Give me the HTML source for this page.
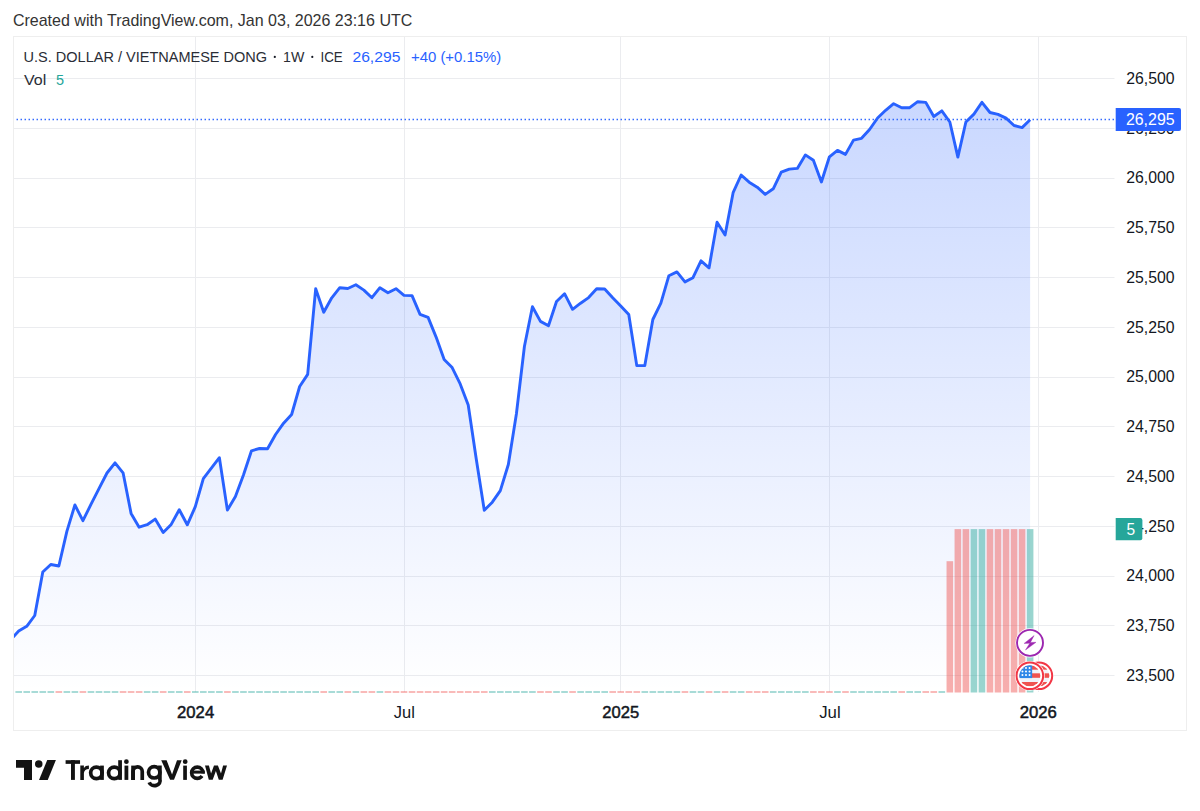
<!DOCTYPE html>
<html><head><meta charset="utf-8"><style>
html,body{margin:0;padding:0;background:#fff;width:1200px;height:811px;overflow:hidden}
svg{display:block}
text{font-family:"Liberation Sans",sans-serif}
.grid line{stroke:#EBECEF;stroke-width:1}
.u{fill:rgba(38,166,154,0.47)}
.d{fill:rgba(239,83,80,0.47)}
</style></head><body>
<svg width="1200" height="811" viewBox="0 0 1200 811">
<defs>
<linearGradient id="ag" x1="0" y1="101" x2="0" y2="692" gradientUnits="userSpaceOnUse">
<stop offset="0" stop-color="#2962FF" stop-opacity="0.25"/>
<stop offset="1" stop-color="#2962FF" stop-opacity="0.0"/>
</linearGradient>
<clipPath id="pc"><rect x="14" y="37" width="1100.5" height="656"/></clipPath>
</defs>
<rect x="0" y="0" width="1200" height="811" fill="#fff"/>
<text transform="translate(12.9 25.7) scale(1.0018 1)" font-size="16" font-weight="normal" fill="#333333">Created with TradingView.com, Jan 03, 2026 23:16 UTC</text>
<rect x="13.5" y="36.5" width="1173" height="694" fill="none" stroke="#EEEEEE" stroke-width="1"/>
<g class="grid"><line x1="14" y1="78.5" x2="1114.5" y2="78.5"/><line x1="14" y1="128.5" x2="1114.5" y2="128.5"/><line x1="14" y1="178.5" x2="1114.5" y2="178.5"/><line x1="14" y1="227.5" x2="1114.5" y2="227.5"/><line x1="14" y1="277.5" x2="1114.5" y2="277.5"/><line x1="14" y1="327.5" x2="1114.5" y2="327.5"/><line x1="14" y1="377.5" x2="1114.5" y2="377.5"/><line x1="14" y1="426.5" x2="1114.5" y2="426.5"/><line x1="14" y1="476.5" x2="1114.5" y2="476.5"/><line x1="14" y1="526.5" x2="1114.5" y2="526.5"/><line x1="14" y1="576.5" x2="1114.5" y2="576.5"/><line x1="14" y1="625.5" x2="1114.5" y2="625.5"/><line x1="14" y1="675.5" x2="1114.5" y2="675.5"/><line x1="195.5" y1="37" x2="195.5" y2="692"/><line x1="404.5" y1="37" x2="404.5" y2="692"/><line x1="620.5" y1="37" x2="620.5" y2="692"/><line x1="829.5" y1="37" x2="829.5" y2="692"/><line x1="1038.5" y1="37" x2="1038.5" y2="692"/></g>
<g clip-path="url(#pc)">
<path d="M10.68 639.7 L18.71 631 L26.73 626.3 L34.76 615.5 L42.79 572 L50.81 564.5 L58.84 566 L66.87 531.4 L74.9 505 L82.92 520.7 L90.95 504.4 L98.98 488.6 L107 473 L115.03 462.8 L123.06 472.8 L131.08 513.4 L139.11 527.2 L147.14 524.7 L155.17 519.1 L163.19 532.5 L171.22 524.4 L179.25 509.7 L187.27 524.8 L195.3 506.7 L203.33 478.7 L211.35 468.2 L219.38 457.7 L227.41 510.1 L235.44 496.6 L243.46 475 L251.49 450.8 L259.52 448.5 L267.54 448.8 L275.57 434.5 L283.6 423.2 L291.62 414.5 L299.65 386.5 L307.68 374.4 L315.7 288.7 L323.73 312.2 L331.76 297.8 L339.79 287.7 L347.81 288.5 L355.84 284.8 L363.87 290.1 L371.89 297.7 L379.92 287.7 L387.95 292.7 L395.98 288.7 L404 295.4 L412.03 295.6 L420.06 314.4 L428.08 317.4 L436.11 337.1 L444.14 359.5 L452.16 367.6 L460.19 383.9 L468.22 405 L476.25 459 L484.27 510.2 L492.3 502.2 L500.33 490.6 L508.35 464.5 L516.38 414 L524.41 346.5 L532.43 306.7 L540.46 321.4 L548.49 325.7 L556.51 301.5 L564.54 293.7 L572.57 309.3 L580.6 303.2 L588.62 297.6 L596.65 288.8 L604.68 289 L612.7 297.8 L620.73 305.9 L628.76 314.5 L636.78 365.6 L644.81 365.6 L652.84 319.5 L660.87 303.2 L668.89 275.7 L676.92 271.9 L684.95 281.9 L692.97 277.7 L701 260.8 L709.03 267.9 L717.06 222.2 L725.08 235.1 L733.11 192.7 L741.14 175 L749.16 182.2 L757.19 187.2 L765.22 194.4 L773.24 188.8 L781.27 172.2 L789.3 169.1 L797.33 168.4 L805.35 154.9 L813.38 160.3 L821.41 182 L829.43 156.8 L837.46 150.4 L845.49 154.4 L853.51 140.1 L861.54 138.3 L869.57 129.5 L877.6 118 L885.62 110.3 L893.65 103.7 L901.68 107.7 L909.7 107.7 L917.73 101.7 L925.76 102.4 L933.78 116.5 L941.81 110.9 L949.84 122 L957.87 157.1 L965.89 122 L973.92 114.1 L981.95 102.3 L989.97 112.5 L998 114.4 L1006.03 118.1 L1014.05 125.5 L1022.08 127.6 L1030.11 119.8 L1030.11 692 L10.68 692 Z" fill="url(#ag)"/>
<rect class="u" x="7.38" y="691" width="6.6" height="2" fill-opacity="0.85"/><rect class="u" x="15.41" y="691" width="6.6" height="2" fill-opacity="0.85"/><rect class="u" x="23.43" y="691" width="6.6" height="2" fill-opacity="0.85"/><rect class="u" x="31.46" y="691" width="6.6" height="2" fill-opacity="0.85"/><rect class="u" x="39.49" y="691" width="6.6" height="2" fill-opacity="0.85"/><rect class="u" x="47.51" y="691" width="6.6" height="2" fill-opacity="0.85"/><rect class="d" x="55.54" y="691" width="6.6" height="2" fill-opacity="0.85"/><rect class="u" x="63.57" y="691" width="6.6" height="2" fill-opacity="0.85"/><rect class="u" x="71.6" y="691" width="6.6" height="2" fill-opacity="0.85"/><rect class="d" x="79.62" y="691" width="6.6" height="2" fill-opacity="0.85"/><rect class="u" x="87.65" y="691" width="6.6" height="2" fill-opacity="0.85"/><rect class="u" x="95.68" y="691" width="6.6" height="2" fill-opacity="0.85"/><rect class="u" x="103.7" y="691" width="6.6" height="2" fill-opacity="0.85"/><rect class="u" x="111.73" y="691" width="6.6" height="2" fill-opacity="0.85"/><rect class="d" x="119.76" y="691" width="6.6" height="2" fill-opacity="0.85"/><rect class="d" x="127.78" y="691" width="6.6" height="2" fill-opacity="0.85"/><rect class="d" x="135.81" y="691" width="6.6" height="2" fill-opacity="0.85"/><rect class="u" x="143.84" y="691" width="6.6" height="2" fill-opacity="0.85"/><rect class="u" x="151.87" y="691" width="6.6" height="2" fill-opacity="0.85"/><rect class="d" x="159.89" y="691" width="6.6" height="2" fill-opacity="0.85"/><rect class="u" x="167.92" y="691" width="6.6" height="2" fill-opacity="0.85"/><rect class="u" x="175.95" y="691" width="6.6" height="2" fill-opacity="0.85"/><rect class="d" x="183.97" y="691" width="6.6" height="2" fill-opacity="0.85"/><rect class="u" x="192" y="691" width="6.6" height="2" fill-opacity="0.85"/><rect class="u" x="200.03" y="691" width="6.6" height="2" fill-opacity="0.85"/><rect class="u" x="208.05" y="691" width="6.6" height="2" fill-opacity="0.85"/><rect class="u" x="216.08" y="691" width="6.6" height="2" fill-opacity="0.85"/><rect class="d" x="224.11" y="691" width="6.6" height="2" fill-opacity="0.85"/><rect class="u" x="232.13" y="691" width="6.6" height="2" fill-opacity="0.85"/><rect class="u" x="240.16" y="691" width="6.6" height="2" fill-opacity="0.85"/><rect class="u" x="248.19" y="691" width="6.6" height="2" fill-opacity="0.85"/><rect class="u" x="256.22" y="691" width="6.6" height="2" fill-opacity="0.85"/><rect class="u" x="264.24" y="691" width="6.6" height="2" fill-opacity="0.85"/><rect class="u" x="272.27" y="691" width="6.6" height="2" fill-opacity="0.85"/><rect class="u" x="280.3" y="691" width="6.6" height="2" fill-opacity="0.85"/><rect class="u" x="288.32" y="691" width="6.6" height="2" fill-opacity="0.85"/><rect class="u" x="296.35" y="691" width="6.6" height="2" fill-opacity="0.85"/><rect class="u" x="304.38" y="691" width="6.6" height="2" fill-opacity="0.85"/><rect class="u" x="312.4" y="691" width="6.6" height="2" fill-opacity="0.85"/><rect class="d" x="320.43" y="691" width="6.6" height="2" fill-opacity="0.85"/><rect class="u" x="328.46" y="691" width="6.6" height="2" fill-opacity="0.85"/><rect class="u" x="336.49" y="691" width="6.6" height="2" fill-opacity="0.85"/><rect class="d" x="344.51" y="691" width="6.6" height="2" fill-opacity="0.85"/><rect class="u" x="352.54" y="691" width="6.6" height="2" fill-opacity="0.85"/><rect class="d" x="360.57" y="691" width="6.6" height="2" fill-opacity="0.85"/><rect class="d" x="368.59" y="691" width="6.6" height="2" fill-opacity="0.85"/><rect class="u" x="376.62" y="691" width="6.6" height="2" fill-opacity="0.85"/><rect class="d" x="384.65" y="691" width="6.6" height="2" fill-opacity="0.85"/><rect class="d" x="392.68" y="691" width="6.6" height="2" fill-opacity="0.85"/><rect class="d" x="400.7" y="691" width="6.6" height="2" fill-opacity="0.85"/><rect class="d" x="408.73" y="691" width="6.6" height="2" fill-opacity="0.85"/><rect class="d" x="416.76" y="691" width="6.6" height="2" fill-opacity="0.85"/><rect class="d" x="424.78" y="691" width="6.6" height="2" fill-opacity="0.85"/><rect class="d" x="432.81" y="691" width="6.6" height="2" fill-opacity="0.85"/><rect class="d" x="440.84" y="691" width="6.6" height="2" fill-opacity="0.85"/><rect class="d" x="448.86" y="691" width="6.6" height="2" fill-opacity="0.85"/><rect class="d" x="456.89" y="691" width="6.6" height="2" fill-opacity="0.85"/><rect class="d" x="464.92" y="691" width="6.6" height="2" fill-opacity="0.85"/><rect class="d" x="472.94" y="691" width="6.6" height="2" fill-opacity="0.85"/><rect class="d" x="480.97" y="691" width="6.6" height="2" fill-opacity="0.85"/><rect class="u" x="489" y="691" width="6.6" height="2" fill-opacity="0.85"/><rect class="u" x="497.03" y="691" width="6.6" height="2" fill-opacity="0.85"/><rect class="u" x="505.05" y="691" width="6.6" height="2" fill-opacity="0.85"/><rect class="u" x="513.08" y="691" width="6.6" height="2" fill-opacity="0.85"/><rect class="u" x="521.11" y="691" width="6.6" height="2" fill-opacity="0.85"/><rect class="u" x="529.13" y="691" width="6.6" height="2" fill-opacity="0.85"/><rect class="d" x="537.16" y="691" width="6.6" height="2" fill-opacity="0.85"/><rect class="d" x="545.19" y="691" width="6.6" height="2" fill-opacity="0.85"/><rect class="u" x="553.22" y="691" width="6.6" height="2" fill-opacity="0.85"/><rect class="u" x="561.24" y="691" width="6.6" height="2" fill-opacity="0.85"/><rect class="d" x="569.27" y="691" width="6.6" height="2" fill-opacity="0.85"/><rect class="u" x="577.3" y="691" width="6.6" height="2" fill-opacity="0.85"/><rect class="u" x="585.32" y="691" width="6.6" height="2" fill-opacity="0.85"/><rect class="u" x="593.35" y="691" width="6.6" height="2" fill-opacity="0.85"/><rect class="u" x="601.38" y="691" width="6.6" height="2" fill-opacity="0.85"/><rect class="d" x="609.4" y="691" width="6.6" height="2" fill-opacity="0.85"/><rect class="d" x="617.43" y="691" width="6.6" height="2" fill-opacity="0.85"/><rect class="d" x="625.46" y="691" width="6.6" height="2" fill-opacity="0.85"/><rect class="d" x="633.49" y="691" width="6.6" height="2" fill-opacity="0.85"/><rect class="u" x="641.51" y="691" width="6.6" height="2" fill-opacity="0.85"/><rect class="u" x="649.54" y="691" width="6.6" height="2" fill-opacity="0.85"/><rect class="u" x="657.57" y="691" width="6.6" height="2" fill-opacity="0.85"/><rect class="u" x="665.59" y="691" width="6.6" height="2" fill-opacity="0.85"/><rect class="u" x="673.62" y="691" width="6.6" height="2" fill-opacity="0.85"/><rect class="d" x="681.65" y="691" width="6.6" height="2" fill-opacity="0.85"/><rect class="u" x="689.67" y="691" width="6.6" height="2" fill-opacity="0.85"/><rect class="u" x="697.7" y="691" width="6.6" height="2" fill-opacity="0.85"/><rect class="d" x="705.73" y="691" width="6.6" height="2" fill-opacity="0.85"/><rect class="u" x="713.76" y="691" width="6.6" height="2" fill-opacity="0.85"/><rect class="d" x="721.78" y="691" width="6.6" height="2" fill-opacity="0.85"/><rect class="u" x="729.81" y="691" width="6.6" height="2" fill-opacity="0.85"/><rect class="u" x="737.84" y="691" width="6.6" height="2" fill-opacity="0.85"/><rect class="d" x="745.86" y="691" width="6.6" height="2" fill-opacity="0.85"/><rect class="d" x="753.89" y="691" width="6.6" height="2" fill-opacity="0.85"/><rect class="d" x="761.92" y="691" width="6.6" height="2" fill-opacity="0.85"/><rect class="u" x="769.94" y="691" width="6.6" height="2" fill-opacity="0.85"/><rect class="u" x="777.97" y="691" width="6.6" height="2" fill-opacity="0.85"/><rect class="u" x="786" y="691" width="6.6" height="2" fill-opacity="0.85"/><rect class="u" x="794.03" y="691" width="6.6" height="2" fill-opacity="0.85"/><rect class="u" x="802.05" y="691" width="6.6" height="2" fill-opacity="0.85"/><rect class="d" x="810.08" y="691" width="6.6" height="2" fill-opacity="0.85"/><rect class="d" x="818.11" y="691" width="6.6" height="2" fill-opacity="0.85"/><rect class="d" x="826.13" y="691" width="6.6" height="2" fill-opacity="0.85"/><rect class="u" x="834.16" y="691" width="6.6" height="2" fill-opacity="0.85"/><rect class="d" x="842.19" y="691" width="6.6" height="2" fill-opacity="0.85"/><rect class="u" x="850.21" y="691" width="6.6" height="2" fill-opacity="0.85"/><rect class="u" x="858.24" y="691" width="6.6" height="2" fill-opacity="0.85"/><rect class="u" x="866.27" y="691" width="6.6" height="2" fill-opacity="0.85"/><rect class="u" x="874.3" y="691" width="6.6" height="2" fill-opacity="0.85"/><rect class="u" x="882.32" y="691" width="6.6" height="2" fill-opacity="0.85"/><rect class="u" x="890.35" y="691" width="6.6" height="2" fill-opacity="0.85"/><rect class="d" x="898.38" y="691" width="6.6" height="2" fill-opacity="0.85"/><rect class="u" x="906.4" y="691" width="6.6" height="2" fill-opacity="0.85"/><rect class="u" x="914.43" y="691" width="6.6" height="2" fill-opacity="0.85"/><rect class="d" x="922.46" y="691" width="6.6" height="2" fill-opacity="0.85"/><rect class="d" x="930.48" y="691" width="6.6" height="2" fill-opacity="0.85"/><rect class="u" x="938.51" y="691" width="6.6" height="2" fill-opacity="0.85"/><rect class="d" x="946.54" y="561.2" width="6.6" height="131.3"/><rect class="d" x="954.57" y="529.1" width="6.6" height="163.4"/><rect class="d" x="962.59" y="529.1" width="6.6" height="163.4"/><rect class="u" x="970.62" y="529.1" width="6.6" height="163.4"/><rect class="u" x="978.65" y="529.1" width="6.6" height="163.4"/><rect class="d" x="986.67" y="529.1" width="6.6" height="163.4"/><rect class="d" x="994.7" y="529.1" width="6.6" height="163.4"/><rect class="d" x="1002.73" y="529.1" width="6.6" height="163.4"/><rect class="d" x="1010.75" y="529.1" width="6.6" height="163.4"/><rect class="d" x="1018.78" y="529.1" width="6.6" height="163.4"/><rect class="u" x="1026.81" y="529.1" width="6.6" height="163.4"/>
<line x1="12.55" y1="119.5" x2="1114.3" y2="119.5" stroke="#2962FF" stroke-width="1.4" stroke-dasharray="1.4 2.6"/>
<path d="M10.68 639.7 L18.71 631 L26.73 626.3 L34.76 615.5 L42.79 572 L50.81 564.5 L58.84 566 L66.87 531.4 L74.9 505 L82.92 520.7 L90.95 504.4 L98.98 488.6 L107 473 L115.03 462.8 L123.06 472.8 L131.08 513.4 L139.11 527.2 L147.14 524.7 L155.17 519.1 L163.19 532.5 L171.22 524.4 L179.25 509.7 L187.27 524.8 L195.3 506.7 L203.33 478.7 L211.35 468.2 L219.38 457.7 L227.41 510.1 L235.44 496.6 L243.46 475 L251.49 450.8 L259.52 448.5 L267.54 448.8 L275.57 434.5 L283.6 423.2 L291.62 414.5 L299.65 386.5 L307.68 374.4 L315.7 288.7 L323.73 312.2 L331.76 297.8 L339.79 287.7 L347.81 288.5 L355.84 284.8 L363.87 290.1 L371.89 297.7 L379.92 287.7 L387.95 292.7 L395.98 288.7 L404 295.4 L412.03 295.6 L420.06 314.4 L428.08 317.4 L436.11 337.1 L444.14 359.5 L452.16 367.6 L460.19 383.9 L468.22 405 L476.25 459 L484.27 510.2 L492.3 502.2 L500.33 490.6 L508.35 464.5 L516.38 414 L524.41 346.5 L532.43 306.7 L540.46 321.4 L548.49 325.7 L556.51 301.5 L564.54 293.7 L572.57 309.3 L580.6 303.2 L588.62 297.6 L596.65 288.8 L604.68 289 L612.7 297.8 L620.73 305.9 L628.76 314.5 L636.78 365.6 L644.81 365.6 L652.84 319.5 L660.87 303.2 L668.89 275.7 L676.92 271.9 L684.95 281.9 L692.97 277.7 L701 260.8 L709.03 267.9 L717.06 222.2 L725.08 235.1 L733.11 192.7 L741.14 175 L749.16 182.2 L757.19 187.2 L765.22 194.4 L773.24 188.8 L781.27 172.2 L789.3 169.1 L797.33 168.4 L805.35 154.9 L813.38 160.3 L821.41 182 L829.43 156.8 L837.46 150.4 L845.49 154.4 L853.51 140.1 L861.54 138.3 L869.57 129.5 L877.6 118 L885.62 110.3 L893.65 103.7 L901.68 107.7 L909.7 107.7 L917.73 101.7 L925.76 102.4 L933.78 116.5 L941.81 110.9 L949.84 122 L957.87 157.1 L965.89 122 L973.92 114.1 L981.95 102.3 L989.97 112.5 L998 114.4 L1006.03 118.1 L1014.05 125.5 L1022.08 127.6 L1030.11 119.8" fill="none" stroke="#2962FF" stroke-width="2.9" stroke-linejoin="round"/>
</g>

<g>
<circle cx="1030" cy="642.85" r="14.6" fill="#fff"/>
<circle cx="1030" cy="642.85" r="13" fill="#fff" stroke="#9C27B0" stroke-width="1.9"/>
<path d="M1034.1 635.6 L1024.1 643.4 L1029.8 643.2 L1025.5 650 L1036 642.3 L1030.4 642.4 Z" fill="#9C27B0" stroke="#9C27B0" stroke-width="0.4" stroke-linejoin="round"/>
</g>
<defs><clipPath id="fc1"><circle cx="1038.9" cy="675.8" r="10.5"/></clipPath><clipPath id="fc2"><circle cx="1029.85" cy="675.8" r="10.5"/></clipPath></defs>
<g><circle cx="1038.9" cy="675.8" r="14.9" fill="#fff"/><circle cx="1038.9" cy="675.8" r="13.3" fill="#fff" stroke="#F23645" stroke-width="2"/><g clip-path="url(#fc1)"><rect x="1027.9" y="664.8" width="22" height="22" fill="#F0F3FA"/><rect x="1027.9" y="665.3" width="22" height="4.4" fill="#EF5350"/><rect x="1027.9" y="673.3" width="22" height="4.5" fill="#EF5350"/><rect x="1027.9" y="682" width="22" height="4.4" fill="#EF5350"/><rect x="1027.9" y="664.8" width="13.3" height="13.3" fill="#2E86E8"/><circle cx="1031.5" cy="668" r="1" fill="#fff"/><circle cx="1031.5" cy="671.5" r="1" fill="#fff"/><circle cx="1031.5" cy="675.1" r="1" fill="#fff"/><circle cx="1035.05" cy="668" r="1" fill="#fff"/><circle cx="1035.05" cy="671.5" r="1" fill="#fff"/><circle cx="1035.05" cy="675.1" r="1" fill="#fff"/><circle cx="1038.6" cy="668" r="1" fill="#fff"/><circle cx="1038.6" cy="671.5" r="1" fill="#fff"/><circle cx="1038.6" cy="675.1" r="1" fill="#fff"/></g></g>
<g><circle cx="1029.85" cy="675.8" r="14.9" fill="#fff"/><circle cx="1029.85" cy="675.8" r="13.3" fill="#fff" stroke="#F23645" stroke-width="2"/><g clip-path="url(#fc2)"><rect x="1018.85" y="664.8" width="22" height="22" fill="#F0F3FA"/><rect x="1018.85" y="665.3" width="22" height="4.4" fill="#EF5350"/><rect x="1018.85" y="673.3" width="22" height="4.5" fill="#EF5350"/><rect x="1018.85" y="682" width="22" height="4.4" fill="#EF5350"/><rect x="1018.85" y="664.8" width="13.3" height="13.3" fill="#2E86E8"/><circle cx="1022.45" cy="668" r="1" fill="#fff"/><circle cx="1022.45" cy="671.5" r="1" fill="#fff"/><circle cx="1022.45" cy="675.1" r="1" fill="#fff"/><circle cx="1026" cy="668" r="1" fill="#fff"/><circle cx="1026" cy="671.5" r="1" fill="#fff"/><circle cx="1026" cy="675.1" r="1" fill="#fff"/><circle cx="1029.55" cy="668" r="1" fill="#fff"/><circle cx="1029.55" cy="671.5" r="1" fill="#fff"/><circle cx="1029.55" cy="675.1" r="1" fill="#fff"/></g></g>

<text transform="translate(1126.21 83.9) scale(0.9912 1)" font-size="16" font-weight="normal" fill="#131722">26,500</text><text transform="translate(1126.21 183.4) scale(0.9912 1)" font-size="16" font-weight="normal" fill="#131722">26,000</text><text transform="translate(1126.21 233.15) scale(0.9912 1)" font-size="16" font-weight="normal" fill="#131722">25,750</text><text transform="translate(1126.21 282.9) scale(0.9912 1)" font-size="16" font-weight="normal" fill="#131722">25,500</text><text transform="translate(1126.21 332.65) scale(0.9912 1)" font-size="16" font-weight="normal" fill="#131722">25,250</text><text transform="translate(1126.21 382.4) scale(0.9912 1)" font-size="16" font-weight="normal" fill="#131722">25,000</text><text transform="translate(1126.21 432.15) scale(0.9912 1)" font-size="16" font-weight="normal" fill="#131722">24,750</text><text transform="translate(1126.21 481.9) scale(0.9912 1)" font-size="16" font-weight="normal" fill="#131722">24,500</text><text transform="translate(1126.21 531.65) scale(0.9912 1)" font-size="16" font-weight="normal" fill="#131722">24,250</text><text transform="translate(1126.21 581.4) scale(0.9912 1)" font-size="16" font-weight="normal" fill="#131722">24,000</text><text transform="translate(1126.21 631.15) scale(0.9912 1)" font-size="16" font-weight="normal" fill="#131722">23,750</text><text transform="translate(1126.21 680.9) scale(0.9912 1)" font-size="16" font-weight="normal" fill="#131722">23,500</text><text transform="translate(1126.21 133.65) scale(0.9912 1)" font-size="16" font-weight="normal" fill="#131722">26,250</text>
<path d="M1115.7 108 H1179 A2 2 0 0 1 1181 110 V129 A2 2 0 0 1 1179 131 H1115.7 Z" fill="#2962FF"/>
<text transform="translate(1125.9 124.6) scale(0.9954 1)" font-size="16" font-weight="normal" fill="#ffffff">26,295</text>
<path d="M1115.7 518 H1140.3 A2 2 0 0 1 1142.3 520 V538.3 A2 2 0 0 1 1140.3 540.3 H1115.7 Z" fill="#26A69A"/>
<text transform="translate(1126.38 535) scale(0.9707 1)" font-size="16" font-weight="normal" fill="#ffffff">5</text>
<text transform="translate(177.07 717.6) scale(0.9813 1)" font-size="17" font-weight="normal" fill="#131722" stroke="#131722" stroke-width="0.5">2024</text><text transform="translate(393.87 717.6) scale(0.9689 1)" font-size="17" font-weight="normal" fill="#131722">Jul</text><text transform="translate(602.37 717.6) scale(0.9749 1)" font-size="17" font-weight="normal" fill="#131722" stroke="#131722" stroke-width="0.5">2025</text><text transform="translate(819.16 717.6) scale(0.9886 1)" font-size="17" font-weight="normal" fill="#131722">Jul</text><text transform="translate(1019.66 717.6) scale(0.9832 1)" font-size="17" font-weight="normal" fill="#131722" stroke="#131722" stroke-width="0.5">2026</text>
<text transform="translate(23.59 61.7) scale(0.9683 1)" font-size="15" font-weight="normal" fill="#2a2d36">U.S. DOLLAR / VIETNAMESE DONG</text><circle cx="274.8" cy="56.9" r="1.1" fill="#131722"/><text transform="translate(283.07 61.7) scale(0.9456 1)" font-size="15" font-weight="normal" fill="#2a2d36">1W</text><circle cx="312.3" cy="56.9" r="1.1" fill="#131722"/><text transform="translate(320.5 61.7) scale(0.8889 1)" font-size="15" font-weight="normal" fill="#2a2d36">ICE</text><text transform="translate(352.42 61.7) scale(1.0460 1)" font-size="15" font-weight="normal" fill="#2962FF">26,295</text><text transform="translate(410.95 61.7) scale(0.9950 1)" font-size="15" font-weight="normal" fill="#2962FF">+40 (+0.15%)</text><text transform="translate(24.04 84.5) scale(1.0687 1)" font-size="15" font-weight="normal" fill="#2a2d36">Vol</text><text transform="translate(55.92 84.5) scale(0.9645 1)" font-size="15" font-weight="normal" fill="#26A69A">5</text>
<g fill="#131313">
<path d="M16 760 H32 V780 H24 V767.75 H16 Z"/>
<circle cx="38.75" cy="764" r="3.75"/>
<path d="M47.25 760 H55.9 L47.75 780 H39 Z"/>
</g>
<g fill="#131313">
<rect x="65.6" y="760.2" width="14.45" height="3.65"/>
<rect x="71" y="760.2" width="3.9" height="19.7"/>
<path d="M80.3 765.6 H83.9 V767.9 Q85.3 765.6 88.9 765.6 V769.1 Q84.5 769.1 83.9 773 V779.9 H80.3 Z"/>
<circle cx="96.4" cy="772.8" r="5.75" fill="none" stroke="#131313" stroke-width="3.7"/>
<rect x="100.1" y="765.6" width="3.75" height="14.3"/>
<circle cx="114.3" cy="772.8" r="5.75" fill="none" stroke="#131313" stroke-width="3.7"/>
<rect x="118.2" y="760.2" width="3.75" height="19.7"/>
<circle cx="126.4" cy="761.7" r="2.35"/>
<rect x="124.5" y="765.6" width="3.8" height="14.3"/>
<rect x="131.2" y="765.6" width="3.7" height="14.3"/>
<path d="M133.05 779.9 V771.5 A4.6 4.6 0 0 1 142.25 771.5 V779.9" fill="none" stroke="#131313" stroke-width="3.7"/>
<circle cx="154.2" cy="772.3" r="5.7" fill="none" stroke="#131313" stroke-width="3.7"/>
<path d="M159.9 765.4 V779.5 A5.5 4.6 0 0 1 149.2 782.3" fill="none" stroke="#131313" stroke-width="3.7"/>
<path d="M161.2 760.2 H166.6 L172.05 774.6 L177 760.2 H181.7 L174 779.8 H170.1 Z"/>
<circle cx="185.2" cy="761.7" r="2.35"/>
<rect x="183.2" y="765.6" width="3.7" height="14.3"/>
<circle cx="197.3" cy="772.7" r="5.65" fill="none" stroke="#131313" stroke-width="3.7"/>
<path d="M197.3 772.7 L207.5 774 L206.5 779 Z" fill="#fff"/>
<rect x="190" y="770.6" width="14.8" height="3"/>
<path d="M205 765.4 H208.9 L211.06 773.57 L214 765.4 H217.9 L221 773.6 L223.1 765.4 H227 L222.6 779.8 H218.8 L215.9 771.05 L212.7 779.8 H208.8 Z"/>
</g>

</svg>
</body></html>
